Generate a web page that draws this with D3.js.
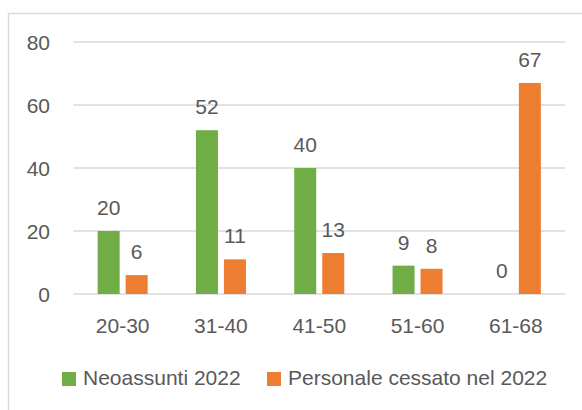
<!DOCTYPE html>
<html>
<head>
<meta charset="utf-8">
<script src="https://cdn.jsdelivr.net/npm/d3@7"></script>
<style>
  body { margin: 0; background: #fff; }
  text { font-family: "Liberation Sans", Arial, sans-serif; fill: #595959; }
</style>
</head>
<body>
<svg id="chart" width="582" height="410"></svg>
<script>
const categories = ["20-30", "31-40", "41-50", "51-60", "61-68"];
const seriesNames = ["Neoassunti 2022", "Personale cessato nel 2022"];
const neoassunti = [20, 52, 40, 9, 0];
const cessati = [6, 11, 13, 8, 67];
const yTicks = [0, 20, 40, 60, 80];
const colors = ["#70AD47", "#ED7D31"];

const svg = d3.select("#chart");

// chart area border (right and bottom edges fall outside the picture)
svg.append("rect")
  .attr("x", 8.5).attr("y", 13.5)
  .attr("width", 600).attr("height", 420)
  .attr("fill", "#fff")
  .attr("stroke", "#d9d9d9")
  .attr("stroke-width", 1.5);

const x0 = d3.scaleBand().domain(categories).range([73.5, 565]);
const x1 = d3.scaleBand().domain(seriesNames).range([0, 50]).paddingInner(6 / 28);
const groupOffset = (x0.bandwidth() - 50) / 2;
const y = d3.scaleLinear().domain([0, 80]).range([294, 42]);

// gridlines
svg.append("g")
  .selectAll("line")
  .data(yTicks)
  .join("line")
  .attr("x1", 73.5).attr("x2", 565)
  .attr("y1", d => y(d)).attr("y2", d => y(d))
  .attr("stroke", "#d9d9d9")
  .attr("stroke-width", 1.5);

// y axis labels
svg.append("g")
  .selectAll("text")
  .data(yTicks)
  .join("text")
  .attr("x", 50)
  .attr("y", d => y(d))
  .attr("dy", "0.36em")
  .attr("text-anchor", "end")
  .style("font-size", "21px")
  .text(d => d);

// category labels
svg.append("g")
  .selectAll("text")
  .data(categories)
  .join("text")
  .attr("x", d => x0(d) + x0.bandwidth() / 2)
  .attr("y", 333)
  .attr("text-anchor", "middle")
  .style("font-size", "21px")
  .text(d => d);

const rows = categories.map((c, i) => ({
  category: c,
  values: [
    { name: seriesNames[0], value: neoassunti[i] },
    { name: seriesNames[1], value: cessati[i] }
  ]
}));

const groups = svg.append("g")
  .selectAll("g")
  .data(rows)
  .join("g")
  .attr("transform", d => `translate(${x0(d.category) + groupOffset},0)`);

groups.selectAll("rect")
  .data(d => d.values)
  .join("rect")
  .attr("x", d => x1(d.name))
  .attr("y", d => y(d.value))
  .attr("width", x1.bandwidth())
  .attr("height", d => y(0) - y(d.value))
  .attr("fill", (d, i) => colors[i]);

groups.selectAll("text")
  .data(d => d.values)
  .join("text")
  .attr("x", d => x1(d.name) + x1.bandwidth() / 2)
  .attr("y", d => y(d.value) - 16)
  .attr("text-anchor", "middle")
  .style("font-size", "21px")
  .text(d => d.value);

// legend
const legendX = [62, 267];
const legend = svg.append("g")
  .selectAll("g")
  .data(seriesNames)
  .join("g")
  .attr("transform", (d, i) => `translate(${legendX[i]},372)`);

legend.append("rect")
  .attr("width", 14).attr("height", 14)
  .attr("fill", (d, i) => colors[i]);

legend.append("text")
  .attr("x", 21)
  .attr("y", 13)
  .style("font-size", "21px")
  .text(d => d);
</script>
</body>
</html>
